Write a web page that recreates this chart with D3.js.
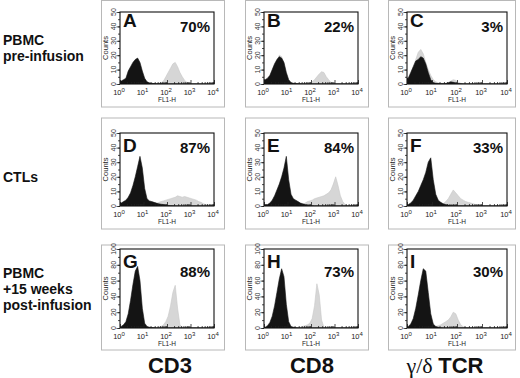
<!DOCTYPE html>
<html><head><meta charset="utf-8">
<script src="https://cdn.jsdelivr.net/npm/d3@7"></script>
<style>body{margin:0;background:#fff} svg{display:block} text{font-family:"Liberation Sans",Arial,sans-serif}</style>
</head><body><svg id="c" width="520" height="378"></svg>
<script>
// ---- DATA (counts per 0.1-decade bin, 10^0 .. 10^4, 40 bins) ----
const A_control = [2,3,4,9,12,15,17,18,15,9, 4,1.5,0.8,0.5,0.3,0.2,0.2,0.2,0.1,0.1, 0,0,0,0,0,0,0,0,0,0, 0,0,0,0,0,0,0,0,0,0];
const A_stained = [0,0,0,0,0,0,0,0,0,0, 0,0,0,0,0,0,0.3,0.8,2,5, 8,11,14,15,12,8,5,2.5,1,0.4, 0.2,0,0,0,0,0,0,0,0,0];
const B_control = [3,4,6,10,14,17,19,18,15,8, 3,1,0.5,0.3,0.2,0.1,0,0,0,0, 0,0,0,0,0,0,0,0,0,0, 0,0,0,0,0,0,0,0,0,0];
const B_stained = [2,3,5,8,12,16,20,19,14,7, 2,0.5,0.2,0.1,0.1,0.1,0.1,0.1,0.2,0.3, 1.5,3,5,7,8.5,8,5,3,1,0.3, 0,0,0,0,0,0,0,0,0,0];
const C_control = [4,8,12,16,17,19,18,14,8,3, 1,0.5,0.3,0.2,0.2,0.3,0.8,1.5,1.2,0.6, 0.3,0.1,0,0,0,0,0,0,0,0, 0,0,0,0,0,0,0,0,0,0];
const C_stained = [4,7,12,17,22,24,21,15,10,6, 3,1.5,0.8,0.5,0.4,0.5,1,2,3,2.5, 1.2,0.5,0.2,0,0,0,0,0,0,0, 0,0,0,0,0,0,0,0,0,0];
const D_control = [2,3,4,6,9,14,20,27,34,26, 12,5,3.5,3,2.5,2,1.5,1.2,1,0.6, 0.4,0.2,0.1,0,0,0,0,0,0,0, 0,0,0,0,0,0,0,0,0,0];
const D_stained = [0,0,0,0,0,0,0,0,0,0, 0,0,0,0.5,1,1.5,2.5,3,3.5,4, 4.5,5,5.5,6,7,6.5,6,6.5,6,5.5, 5,4.5,4,3,2.5,1.5,1,0.5,0.3,0];
const E_control = [1,1,2,4,7,11,15,20,26,34, 18,8,5,4,3,2,1.5,1,0.5,0.3, 0.2,0,0,0,0,0,0,0,0,0, 0,0,0,0,0,0,0,0,0,0];
const E_stained = [0,0,0,0,0,0,0,0,0,0, 0,0,0,0,0,0.5,1,2,3,3.5, 4,5,5.5,6,6.5,7,8,9,11,15, 20,14,7,3,1,0.3,0,0,0,0];
const F_control = [1,2,4,7,10,14,18,23,30,33, 18,8,4,2.5,1.5,1,0.6,0.4,0.2,0.1, 0,0,0,0,0,0,0,0,0,0, 0,0,0,0,0,0,0,0,0,0];
const F_stained = [0,0,0,0,0,0,0,0,0,0, 0,0,0,0.5,1.5,3,5,8,11,9, 7,5,4,3,2.5,2,1.5,1,0.6,0.3, 0,0,0,0,0,0,0,0,0,0];
const G_control = [2,4,8,18,35,55,72,78,60,25, 6,2,1,0.5,0.3,0,0,0,0,0, 0,0,0,0,0,0,0,0,0,0, 0,0,0,0,0,0,0,0,0,0];
const G_stained = [0,0,0,0,0,0,0,0,0,0, 0,0,0,0,0,0.5,1,2,4,8, 15,28,45,54,25,4,0.5,0,0,0, 0,0,0,0,0,0,0,0,0,0];
const H_control = [1,3,7,15,28,45,62,75,65,30, 8,2,1,0.3,0,0,0,0,0,0, 0,0,0,0,0,0,0,0,0,0, 0,0,0,0,0,0,0,0,0,0];
const H_stained = [0,0,0,0,0,0,0,0,0,0, 0,0,0,0,0,1,2,3,4,6, 12,28,56,42,10,1,0,0,0,0, 0,0,0,0,0,0,0,0,0,0];
const I_control = [2,5,12,25,42,60,75,72,45,18, 5,2,1,0.3,0,0,0,0,0,0, 0,0,0,0,0,0,0,0,0,0, 0,0,0,0,0,0,0,0,0,0];
const I_stained = [0,0,0,0,0,0,0,0,0,0, 1,2,3,4,6,8,10,14,20,18, 10,4,1.5,0.5,0,0,0,0,0,0, 0,0,0,0,0,0,0,0,0,0];

const panelLetters = ["A","B","C","D","E","F","G","H","I"];
const percentLabels = ["70%","22%","3%","87%","84%","33%","88%","73%","30%"];
const rowLabels = [["PBMC","pre-infusion"],["CTLs"],["PBMC","+15 weeks","post-infusion"]];
const columnLabels = ["CD3","CD8","TCR"];
const yMaxByRow = [50,50,100];
const yTicksByRow = [[0,10,20,30,40,50],[0,10,20,30,40,50],[0,20,40,60,80,100]];
const xTickExponents = [0,1,2,3,4];
const xAxisLabel = "FL1-H";
const yAxisLabel = "Counts";

const controlSeries = [A_control,B_control,C_control,D_control,E_control,F_control,G_control,H_control,I_control];
const stainedSeries = [A_stained,B_stained,C_stained,D_stained,E_stained,F_stained,G_stained,H_stained,I_stained];

// ---- LAYOUT ----
const colLeft = [120,264,407], colRight = [214,358,507];
const rowTop = [12,133,249], rowBottom = [84,206,328];
const frameL = [101,245,388], frameR = [224,368,515];
const frameT = [0.5,118,245], frameB = [107,229,350];
const rowLabelBase = [[45,61],[182],[278,294,310]];
const NB = 40;
const binCenters = d3.range(NB).map(i => Math.pow(10, (i + 0.5) * 4 / NB));

const svg = d3.select("#c");

// row labels
rowLabels.forEach((lines, r) => {
  lines.forEach((t, k) => {
    svg.append("text").attr("x", 3).attr("y", rowLabelBase[r][k])
      .attr("font-size", 14).attr("font-weight", "bold").attr("fill", "#111").text(t);
  });
});

// column labels
const colLabelX = [170, 312, 445];
columnLabels.forEach((t, c) => {
  const tx = svg.append("text").attr("x", colLabelX[c]).attr("y", 373)
    .attr("text-anchor", "middle").attr("font-size", 22).attr("font-weight", "bold").attr("fill", "#111");
  if (c === 2) {
    tx.append("tspan").attr("font-family", "'Liberation Serif','Times New Roman',serif")
      .attr("font-weight", "normal").text("γ/δ ");
  }
  tx.append("tspan").text(t);
});

panelLetters.forEach((letter, i) => {
  const r = Math.floor(i / 3), c = i % 3;
  const L = colLeft[c], R = colRight[c], T = rowTop[r], B = rowBottom[r];
  // outer grey frame
  svg.append("rect").attr("x", frameL[c] + 0.5).attr("y", frameT[r])
    .attr("width", frameR[c] - frameL[c]).attr("height", frameB[r] - frameT[r])
    .attr("fill", "none").attr("stroke", "#b8b8b8").attr("stroke-width", 1);

  const x = d3.scaleLog().domain([1, 1e4]).range([L, R]);
  const y = d3.scaleLinear().domain([0, yMaxByRow[r]]).range([B, T]);
  const g = svg.append("g");
  const clipId = "clip" + i;
  svg.append("clipPath").attr("id", clipId).append("rect")
    .attr("x", L).attr("y", T).attr("width", R - L).attr("height", B - T);

  const mk = arr => [{v: 1, c: arr[0]}].concat(arr.map((cnt, k) => ({v: binCenters[k], c: cnt}))).concat([{v: 1e4, c: arr[NB - 1]}]);
  const area = d3.area().x(d => x(d.v)).y0(B).y1(d => y(d.c));
  const hg = g.append("g").attr("clip-path", `url(#${clipId})`);
  hg.append("path").datum(mk(stainedSeries[i])).attr("d", area)
    .attr("fill", "#d6d6d6").attr("stroke", "#c8c8c8").attr("stroke-width", 0.6);
  hg.append("path").datum(mk(controlSeries[i])).attr("d", area)
    .attr("fill", "#141414").attr("stroke", "#141414").attr("stroke-width", 0.6);

  // x axis ticks (inward)
  const minors = [];
  for (let e = 0; e < 4; e++) for (let m = 2; m <= 9; m++) minors.push(m * Math.pow(10, e));
  const xa = g.append("g").attr("transform", `translate(0,${B})`);
  xa.call(d3.axisBottom(x).tickValues(minors).tickSize(-2).tickFormat(""));
  const xb = g.append("g").attr("transform", `translate(0,${B})`);
  xb.call(d3.axisBottom(x).tickValues(xTickExponents.map(e => Math.pow(10, e))).tickSize(-4).tickFormat(""));
  // y axis ticks (outward)
  const ymaj = yTicksByRow[r];
  const step = ymaj[1] - ymaj[0];
  const yminors = d3.range(0, yMaxByRow[r] + 0.001, step / 2);
  const ya = g.append("g").attr("transform", `translate(${L},0)`);
  ya.call(d3.axisLeft(y).tickValues(yminors).tickSize(2).tickFormat(""));
  const yb = g.append("g").attr("transform", `translate(${L},0)`);
  yb.call(d3.axisLeft(y).tickValues(ymaj).tickSize(3.5).tickFormat(""));
  g.selectAll(".domain").remove();
  g.selectAll(".tick line").attr("stroke", "#222").attr("stroke-width", 0.8);

  // plot border
  g.append("rect").attr("x", L).attr("y", T).attr("width", R - L).attr("height", B - T)
    .attr("fill", "none").attr("stroke", "#111").attr("stroke-width", 1.1);

  // x tick labels
  xTickExponents.forEach(e => {
    const t = g.append("text").attr("x", x(Math.pow(10, e)) - 1).attr("y", B + 11)
      .attr("text-anchor", "middle").attr("font-size", 7.5).attr("fill", "#222");
    t.append("tspan").text("10");
    t.append("tspan").attr("dy", -3.5).attr("font-size", 6).text(String(e));
  });
  g.append("text").attr("x", (L + R) / 2).attr("y", B + 18).attr("text-anchor", "middle")
    .attr("font-size", 6.5).attr("fill", "#222").text(xAxisLabel);

  // y tick labels (rotated)
  ymaj.forEach(v => {
    g.append("text").attr("transform", `translate(${L - 4},${y(v)}) rotate(-90)`)
      .attr("text-anchor", "middle").attr("font-size", 7).attr("fill", "#333").text(v);
  });
  g.append("text").attr("transform", `translate(${L - 12},${(T + B) / 2}) rotate(-90)`)
    .attr("text-anchor", "middle").attr("font-size", 7.5).attr("fill", "#222").text(yAxisLabel);

  // panel letter and percentage
  const letterOff = r === 0 ? 15 : 19;
  g.append("text").attr("x", L + 3).attr("y", T + letterOff).attr("font-size", 19)
    .attr("font-weight", "bold").attr("fill", "#111").text(letter);
  const pctOff = r === 2 ? 28 : 20;
  g.append("text").attr("x", R - 4).attr("y", T + pctOff).attr("text-anchor", "end")
    .attr("font-size", 15).attr("font-weight", "bold").attr("fill", "#111").text(percentLabels[i]);
});
</script></body></html>
